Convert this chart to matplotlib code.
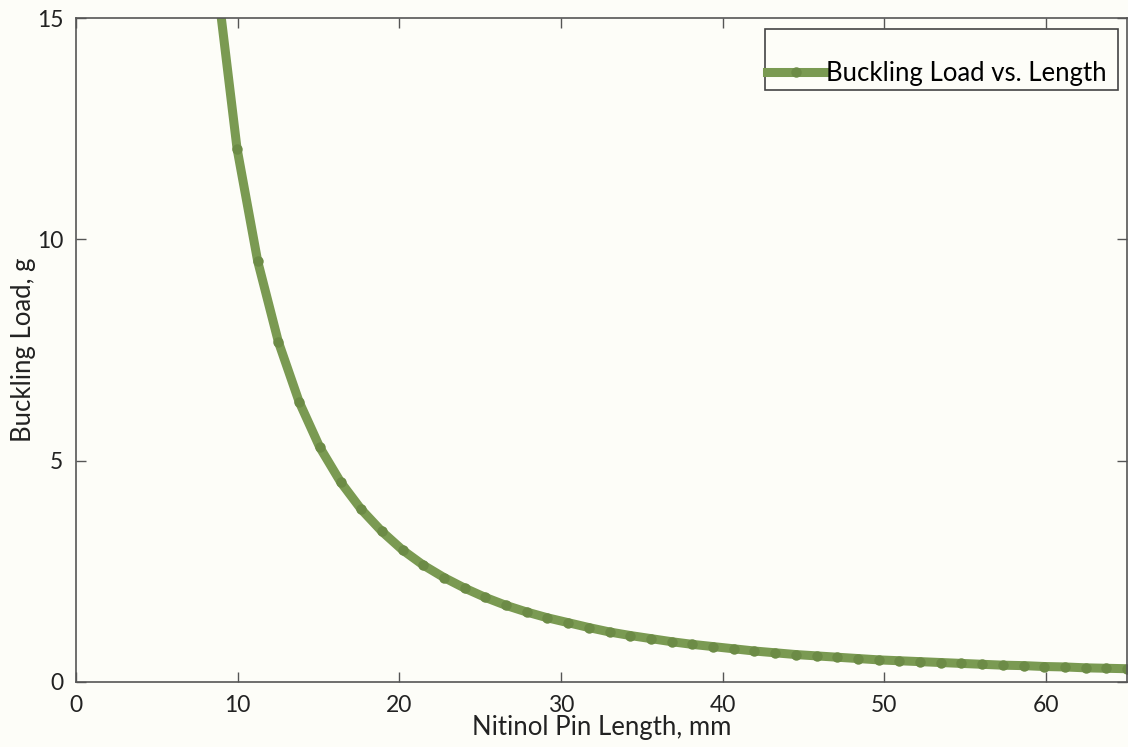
import matplotlib
matplotlib.use("Agg")
import matplotlib.pyplot as plt
from matplotlib.patches import Rectangle

# Pin length (mm) and buckling load (g)
length_mm = [8.68, 9.96, 11.24, 12.52, 13.80, 15.08, 16.36, 17.64, 18.92, 20.20,
             21.48, 22.76, 24.04, 25.32, 26.60, 27.88, 29.16, 30.44, 31.72, 33.00,
             34.28, 35.56, 36.84, 38.12, 39.40, 40.68, 41.96, 43.24, 44.52, 45.80,
             47.08, 48.36, 49.64, 50.92, 52.20, 53.48, 54.76, 56.04, 57.32, 58.60,
             59.88, 61.16, 62.44, 63.72, 65.00]
load_g = [15.93, 12.05, 9.50, 7.68, 6.33, 5.30, 4.52, 3.90, 3.40, 2.98,
          2.64, 2.36, 2.12, 1.91, 1.73, 1.58, 1.45, 1.34, 1.23, 1.13,
          1.05, 0.98, 0.91, 0.85, 0.80, 0.75, 0.70, 0.66, 0.62, 0.59,
          0.56, 0.53, 0.50, 0.48, 0.46, 0.44, 0.42, 0.40, 0.38, 0.37,
          0.35, 0.34, 0.32, 0.31, 0.30]

x_ticks = [0, 10, 20, 30, 40, 50, 60]
y_ticks = [0, 5, 10, 15]

bg = "#fdfdf8"
line_color = "#7a9a52"
marker_color = "#6c8b46"
spine_color = "#555555"
text_color = "#222222"

plt.rcParams["font.family"] = ["Lato", "DejaVu Sans"]

W, H = 1128, 747
fig = plt.figure(figsize=(W / 100, H / 100), dpi=100, facecolor=bg)
ax = fig.add_axes([76 / W, 1 - 682 / H, 1051 / W, 664 / H])
ax.set_facecolor(bg)

ax.plot(length_mm, load_g, "-", color=line_color, linewidth=6.5,
        marker="o", markersize=7.5, markerfacecolor=marker_color,
        markeredgecolor=marker_color, markeredgewidth=0,
        label="Buckling Load vs. Length")

ax.set_xlim(0, 65)
ax.set_ylim(0, 15)
ax.set_xticks(x_ticks)
ax.set_yticks(y_ticks)
ax.tick_params(direction="in", length=7, width=1, color=spine_color,
               labelsize=16.5, labelcolor=text_color, top=True, right=True)
ax.tick_params(axis="x", pad=9)
ax.tick_params(axis="y", pad=9)
for s in ax.spines.values():
    s.set_color(spine_color)
    s.set_linewidth(1.2)

ax.set_xlabel("Nitinol Pin Length, mm", fontsize=18.5, color=text_color,
              labelpad=0)
ax.set_ylabel("Buckling Load, g", fontsize=18.5, color=text_color, labelpad=1)

# legend frame drawn separately: the box is taller than the entry
ax.add_patch(Rectangle((765 / W, 1 - 90 / H), 353 / W, 61 / H,
                       transform=fig.transFigure, facecolor=bg,
                       edgecolor="#444444", linewidth=1.2, zorder=5,
                       clip_on=False))
leg = ax.legend(loc="center left", bbox_to_anchor=(767 / W, 1 - 73 / H),
                bbox_transform=fig.transFigure, fontsize=18.5,
                handlelength=2.25, handletextpad=0.05, borderpad=0,
                borderaxespad=0, frameon=False)
leg.set_zorder(6)

plt.savefig("out.png", dpi=100, facecolor=bg)
